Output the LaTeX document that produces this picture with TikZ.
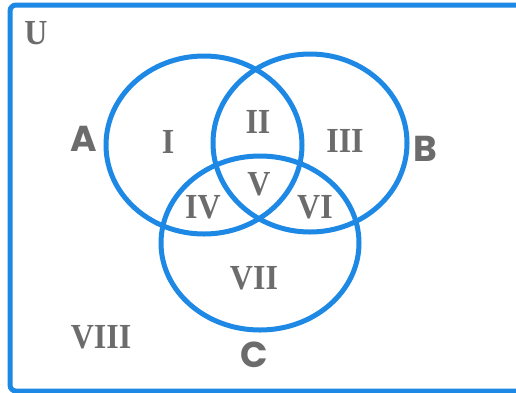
\documentclass[tikz,border=0pt]{standalone}
\usepackage{graphicx}
\usepackage{fontspec}
\setmainfont{Liberation Serif}
\newfontfamily\setfont{Poppins}
\definecolor{vblue}{RGB}{30,136,229}
\definecolor{vgray}{RGB}{108,108,108}
\newcommand\rnum[1]{\scalebox{1}[1.1]{#1}}
\begin{document}
\begin{tikzpicture}[x=1pt,y=-1pt,
  setline/.style={draw=vblue,line width=5pt},
  region/.style={text=vgray,font=\fontsize{32}{32}\selectfont\bfseries,inner sep=0pt,anchor=center},
  setname/.style={text=vgray,font=\setfont\fontsize{36}{36}\selectfont\bfseries,inner sep=0pt,anchor=center}]
\useasboundingbox (0,0) rectangle (516,392);
\fill[white] (0,0) rectangle (516,392);
\draw[setline,rounded corners=6pt] (10,5) rectangle (540,391);
\draw[setline] (204,145) ellipse [x radius=98, y radius=89];
\draw[setline] (310,143) ellipse [x radius=97, y radius=89];
\draw[setline] (260,243) ellipse [x radius=99, y radius=87];
\node[region] (u) at (36,33) {\rnum{U}};
\node[region] (r1) at (168,142) {\rnum{I}};
\node[region] (r2) at (258,122) {\rnum{II}};
\node[region] (r3) at (345,141) {\rnum{III}};
\node[region] (r4) at (203,207) {\rnum{IV}};
\node[region] (r5) at (259,184) {\rnum{V}};
\node[region] (r6) at (315,207) {\rnum{VI}};
\node[region] (r7) at (254,278) {\rnum{VII}};
\node[region] (r8) at (101,337) {\rnum{VIII}};
\node[setname] (a) at (84,139) {A};
\node[setname] (b) at (425,149) {B};
\node[setname] (c) at (254,355) {C};
\end{tikzpicture}
\end{document}
